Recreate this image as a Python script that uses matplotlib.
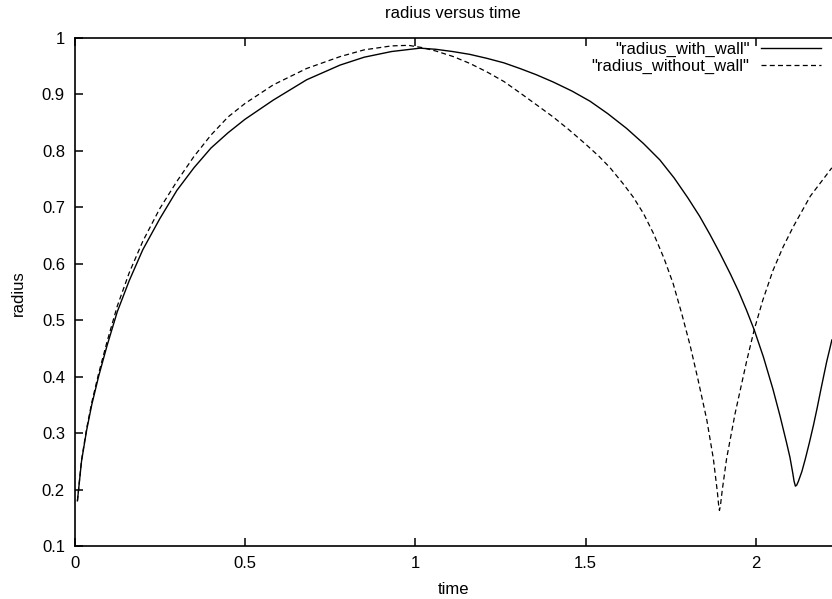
import matplotlib
matplotlib.use('Agg')
import matplotlib.pyplot as plt
from matplotlib.ticker import FormatStrFormatter

plt.rcParams['font.family'] = ['Liberation Sans', 'DejaVu Sans']

# radius_with_wall
t_wall = [0.008, 0.02, 0.035, 0.05, 0.07, 0.095, 0.125, 0.16, 0.20, 0.25,
          0.30, 0.35, 0.40, 0.45, 0.50, 0.583, 0.681, 0.779, 0.85, 0.93,
          1.014, 1.06, 1.11, 1.16, 1.21, 1.26, 1.307, 1.355, 1.405, 1.46,
          1.513, 1.565, 1.62, 1.67, 1.718, 1.76, 1.80, 1.835, 1.865, 1.895,
          1.925, 1.95, 1.973, 1.995, 2.022, 2.05, 2.071, 2.09, 2.10, 2.108,
          2.112, 2.116, 2.120, 2.125, 2.135, 2.145, 2.157, 2.169, 2.18, 2.19,
          2.20, 2.208, 2.216, 2.223]
r_wall = [0.18, 0.25, 0.305, 0.35, 0.40, 0.455, 0.515, 0.57, 0.625, 0.68,
          0.73, 0.77, 0.805, 0.832, 0.856, 0.89, 0.926, 0.952, 0.966, 0.976,
          0.982, 0.980, 0.976, 0.971, 0.964, 0.956, 0.946, 0.935, 0.922, 0.906,
          0.888, 0.866, 0.840, 0.813, 0.784, 0.752, 0.717, 0.684, 0.652, 0.618,
          0.582, 0.55, 0.517, 0.483, 0.435, 0.378, 0.330, 0.283, 0.257, 0.230,
          0.215, 0.206, 0.208, 0.215, 0.232, 0.254, 0.283, 0.314, 0.345, 0.375,
          0.404, 0.427, 0.447, 0.465]

# radius_without_wall
t_free = [0.008, 0.02, 0.035, 0.05, 0.07, 0.095, 0.125, 0.16, 0.20, 0.25,
          0.30, 0.35, 0.40, 0.45, 0.50, 0.583, 0.681, 0.779, 0.85, 0.93,
          0.98, 1.02, 1.06, 1.112, 1.16, 1.21, 1.26, 1.307, 1.355, 1.405,
          1.45, 1.50, 1.54, 1.572, 1.61, 1.64, 1.67, 1.699, 1.73, 1.757,
          1.783, 1.807, 1.83, 1.856, 1.875, 1.887, 1.891, 1.893, 1.896, 1.901,
          1.914, 1.939, 1.973, 1.995, 2.02, 2.05, 2.08, 2.11, 2.16, 2.223]
r_free = [0.18, 0.252, 0.308, 0.354, 0.405, 0.462, 0.525, 0.584, 0.640, 0.698,
          0.746, 0.790, 0.828, 0.860, 0.884, 0.917, 0.946, 0.967, 0.979, 0.986,
          0.987, 0.983, 0.977, 0.967, 0.955, 0.940, 0.923, 0.903, 0.882, 0.860,
          0.838, 0.812, 0.790, 0.770, 0.742, 0.718, 0.689, 0.654, 0.610, 0.565,
          0.51, 0.455, 0.395, 0.323, 0.255, 0.195, 0.170, 0.163, 0.172, 0.198,
          0.255, 0.335, 0.428, 0.483, 0.535, 0.588, 0.630, 0.666, 0.72, 0.770]

xticks = [0, 0.5, 1, 1.5, 2]
yticks = [0.1, 0.2, 0.3, 0.4, 0.5, 0.6, 0.7, 0.8, 0.9, 1]

fig = plt.figure(figsize=(8.32, 5.99), dpi=100)
ax = fig.add_axes([74.7 / 832, 53 / 599, 1 - 74.7 / 832, 508 / 599])

ax.plot(t_wall, r_wall, color='black', lw=1.0, label='"radius_with_wall"')
ax.plot(t_free, r_free, color='black', lw=0.9, linestyle=(0, (4, 2.6)),
        label='"radius_without_wall"')

ax.set_xlim(0, (832 - 74.7) / 340.6)
ax.set_ylim(0.1, 1.0)
ax.set_xticks(xticks)
ax.set_yticks(yticks)
ax.xaxis.set_major_formatter(FormatStrFormatter('%g'))
ax.yaxis.set_major_formatter(FormatStrFormatter('%g'))
ax.tick_params(direction='in', length=6, width=1.1, labelsize=12,
               top=True, pad=7)
ax.spines['right'].set_visible(False)
for s in ['left', 'bottom', 'top']:
    ax.spines[s].set_linewidth(1.2)

fig.text(453 / 832, 1 - 14 / 599, 'radius versus time', ha='center',
         va='center', fontsize=12)
fig.text(453 / 832, 1 - 589 / 599, 'time', ha='center', va='center',
         fontsize=12)
fig.text(18 / 832, 1 - 293 / 599, 'radius', ha='center', va='center',
         rotation=90, fontsize=12)

fig.legend(loc='upper right', bbox_to_anchor=(821 / 832, 1 - 42 / 599),
           frameon=False, markerfirst=False, fontsize=12, handlelength=3.6,
           handletextpad=0.7, labelspacing=0.1, borderpad=0, borderaxespad=0)

fig.savefig('out.png', dpi=100)
